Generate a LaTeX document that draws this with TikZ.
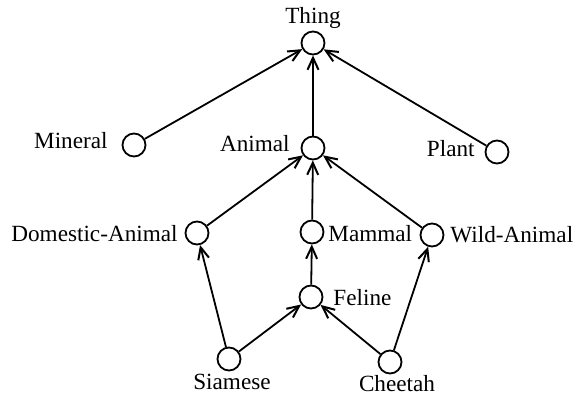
\documentclass[tikz,border=0pt]{standalone}
\usepackage{fontspec}
\setmainfont{Liberation Serif}
\usetikzlibrary{arrows.meta}
\begin{document}
\begin{tikzpicture}[x=0.5pt,y=-0.5pt,
  vert/.style={circle,draw,line width=0.9pt,inner sep=0pt,minimum size=11.5pt},
  lbl/.style={inner sep=0pt,font=\fontsize{11.6}{13}\selectfont},
  isa/.style={line width=0.9pt,-{Straight Barb[length=6pt,width=5.5pt,line width=1pt]}}]
\useasboundingbox (0,0) rectangle (587,396);
% vertices
\node[vert] (thing) at (313,43) {};
\node[vert] (mineral) at (134,145) {};
\node[vert] (animal) at (313,148) {};
\node[vert] (plant) at (497,152) {};
\node[vert] (domestic) at (197,233) {};
\node[vert] (mammal) at (312,232) {};
\node[vert] (wild) at (432,235) {};
\node[vert] (feline) at (311,297) {};
\node[vert] (siamese) at (229,359) {};
\node[vert] (cheetah) at (390,362) {};
% labels
\node[lbl,anchor=base] (lthing) at (313,24) {Thing};
\node[lbl,anchor=base east] (lmineral) at (108,148) {Mineral};
\node[lbl,anchor=base east] (lanimal) at (290,151) {Animal};
\node[lbl,anchor=base east] (lplant) at (475,156) {Plant};
\node[lbl,anchor=base east] (ldomestic) at (178,241) {Domestic-Animal};
\node[lbl,anchor=base west] (lmammal) at (328,241) {Mammal};
\node[lbl,anchor=base west] (lwild) at (450,242) {Wild-Animal};
\node[lbl,anchor=base west] (lfeline) at (333,305) {Feline};
\node[lbl,anchor=base] (lsiamese) at (232,389) {Siamese};
\node[lbl,anchor=base] (lcheetah) at (397,391) {Cheetah};
% edges
\draw[isa] (mineral) -- (thing);
\draw[isa] (animal) -- (thing);
\draw[isa] (plant) -- (thing);
\draw[isa] (domestic) -- (animal);
\draw[isa] (mammal) -- (animal);
\draw[isa] (wild) -- (animal);
\draw[isa] (feline) -- (mammal);
\draw[isa] (siamese) -- (domestic);
\draw[isa] (siamese) -- (feline);
\draw[isa] (cheetah) -- (feline);
\draw[isa] (cheetah) -- (wild);
\end{tikzpicture}
\end{document}
